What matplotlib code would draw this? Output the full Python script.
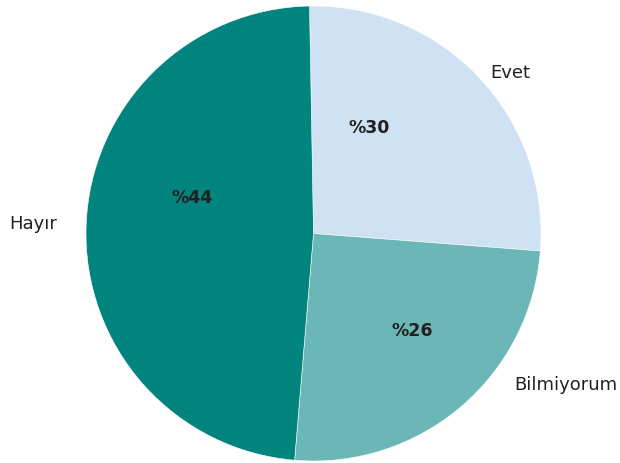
import matplotlib.pyplot as plt

# slice shares as drawn in the chart, and the printed percentages
categories = ['Evet', 'Bilmiyorum', 'Hayır']
shares = [26.5, 25.1, 48.4]
pct_labels = ['%30', '%26', '%44']
colors = ['#cfe2f3', '#6bb7b7', '#00847d']

W, H = 620, 464
fig = plt.figure(figsize=(6.2, 4.64), dpi=100)
ax = fig.add_axes([0, 0, 1, 1])

cx, cy, r = 313.5, H - 234.5, 227.5
ax.pie(shares, colors=colors, startangle=91, counterclock=False,
       center=(cx, cy), radius=r,
       wedgeprops=dict(edgecolor='white', linewidth=0.4))

ax.set_xlim(0, W)
ax.set_ylim(0, H)
ax.set_aspect('equal')
ax.axis('off')

txt = '#231f20'
# category labels (pixel positions from the reference)
cat_pos = [(510, 73), (566, 385), (33, 224)]
for name, (x, y) in zip(categories, cat_pos):
    ax.text(x, H - y, name, ha='center', va='center', fontsize=13, color=txt)

pct_pos = [(369, 128), (412, 331), (192, 198)]
for lab, (x, y) in zip(pct_labels, pct_pos):
    ax.text(x, H - y, lab, ha='center', va='center', fontsize=12.5,
            fontweight='bold', color=txt)

fig.savefig('out.png', dpi=100)
